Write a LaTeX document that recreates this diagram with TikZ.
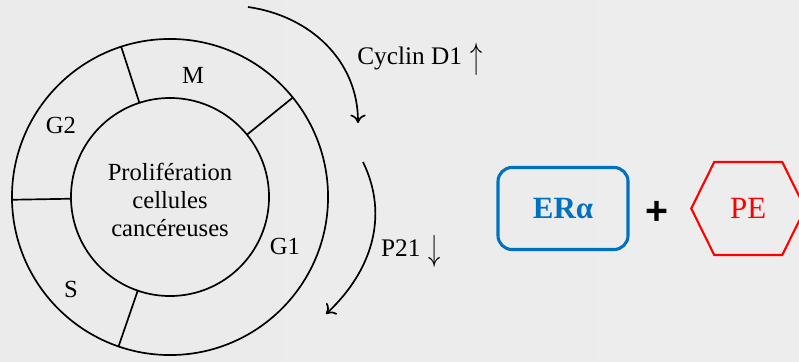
\documentclass[tikz,border=0pt]{standalone}
\usepackage{graphicx}
\usepackage{fontspec}
\setmainfont{Liberation Serif}
\newfontfamily\plusfont{Liberation Sans}
\usetikzlibrary{positioning, arrows.meta}
\definecolor{erblue}{RGB}{0,112,192}
\newcommand{\tallup}{\raisebox{-0.3ex}{\scalebox{1}[1.5]{$\uparrow$}}}
\newcommand{\talldown}{\raisebox{-0.3ex}{\scalebox{1}[1.5]{$\downarrow$}}}
\tikzstyle{ring} = [circle, draw=black, line width=1.2pt, outer sep=0pt, inner sep=0pt]
\tikzstyle{phase} = [font=\fontsize{17.5}{19.9}\selectfont]
\tikzstyle{marker} = [font=\fontsize{18}{21}\selectfont]
\tikzstyle{cycarrow} = [line width=1.2pt, -{To[length=6pt,width=11pt]}]
\tikzstyle{erbox} = [rectangle, rounded corners=0.35cm, draw=erblue, line width=2.2pt, minimum width=3.25cm, minimum height=2.05cm, text=erblue, font=\fontsize{22}{26}\selectfont\bfseries]
\tikzstyle{hexline} = [draw=red, line width=1.5pt, line join=miter]

\begin{document}
\begin{tikzpicture}[x=0.025cm, y=-0.025cm, node distance=2.35cm]
			\useasboundingbox (0,0) rectangle (799,361);
			\shade [left color=gray!16, middle color=gray!3, right color=gray!14] (0,0) rectangle (799,361);
			
			% cell cycle
			\node (outer) [ring, minimum size=7.9cm] at (170,197) {};
			\node (inner) [ring, minimum size=4.95cm] at (170,197) {};
			\node (prolif) [phase, align=center] at (170,200) {Prolifération\\cellules\\cancéreuses};
			\foreach \a in {39,108,181,251}
				\draw [line width=1.2pt] (inner.\a) -- (outer.\a);
			
			\node (m) [phase] at (193,75) {M};
			\node (g2) [phase] at (61,125) {G2};
			\node (s) [phase] at (71,289) {S};
			\node (g1) [phase] at (285,246) {G1};
			
			% arrows
			\coordinate (c1a) at (248,7);
			\coordinate (c1b) at (358,123);
			\coordinate (c2a) at (363,162);
			\coordinate (c2b) at (326,314);
			\draw [cycarrow] (c1a) to[out=-8, in=90] (c1b);
			\draw [cycarrow] (c2a) to[out=-64, in=43] (c2b);
			\node (cyclin) [marker] at (420,59) {Cyclin D1\,\,\tallup};
			\node (p21) [marker] at (411,251) {P21\,\,\talldown};
			
			% ER alpha + PE
			\node (era) [erbox] at (563,208.5) {ERα};
			\node (plus) [right of=era, yshift=-0.11cm, font=\fontsize{28}{30}\selectfont\plusfont\bfseries] {+};
			\node (pe) [right of=era, node distance=4.63cm, text=red, font=\fontsize{22}{26}\selectfont] {PE};
			\draw [hexline] (pe.center) ++(-57,0) -- ++(23,-46.5) -- ++(68,0) -- ++(23,46.5) -- ++(-23,46.5) -- ++(-68,0) -- cycle;
			\end{tikzpicture}
\end{document}
